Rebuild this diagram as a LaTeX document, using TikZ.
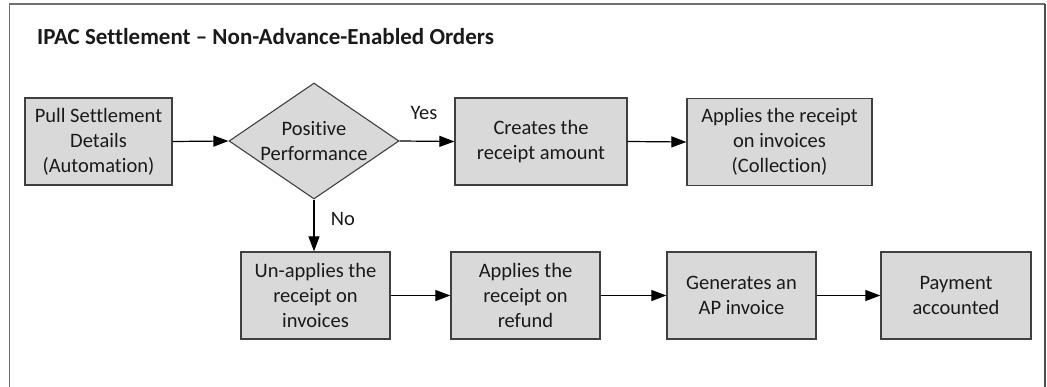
\documentclass[tikz,border=0pt]{standalone}
\usepackage{fontspec}
\setmainfont{Carlito}[Ligatures=NoCommon]
\usetikzlibrary{shapes.geometric,arrows.meta}

\definecolor{boxfill}{HTML}{D9D9D9}
\definecolor{boxline}{HTML}{404040}
\definecolor{frameline}{HTML}{707070}
\definecolor{ink}{HTML}{1A1A1A}

\tikzset{
  bodyfont/.style={font=\fontsize{20.5}{25}\selectfont},
  stepbox/.style={draw=boxline, fill=boxfill, line width=1.3pt, inner sep=0pt,
    minimum height=87pt, align=center, text=ink, bodyfont},
  decision/.style={diamond, draw=boxline, fill=boxfill, line width=1.1pt, inner sep=0pt,
    minimum width=170pt, minimum height=116pt},
  flow/.style={-{Triangle[length=15pt,width=11pt]}, line width=1.2pt, black},
  lbl/.style={text=ink, bodyfont, inner sep=0pt}
}

\begin{document}
\begin{tikzpicture}[x=1pt,y=-1pt]
  \useasboundingbox (0,0) rectangle (1047,387);
  \fill[white] (0,0) rectangle (1047,387);

  % outer frame (open at the bottom)
  \draw[frameline, line width=1.5pt] (9.5,395) -- (9.5,4) -- (1045,4);
  \draw[black!70, line width=2pt] (1045,4) -- (1045,395);

  % title
  \node[anchor=base west, inner sep=0pt, text=ink,
        font=\fontsize{23}{28}\selectfont\bfseries] (title) at (37,45)
        {IPAC Settlement – Non-Advance-Enabled Orders};

  % upper row
  \node[stepbox, minimum width=147pt] (pull) at (98.5,141.5)
        {Pull Settlement\\Details\\(Automation)};
  \node[decision] (perf) at (314,141) {};
  \node[lbl, align=center] (perftext) at (perf.center) {Positive\\Performance};
  \node[stepbox, minimum width=172pt] (creates) at (541,141.5)
        {Creates the\\receipt amount};
  \node[stepbox, minimum width=185pt] (collect) at (779.5,142)
        {Applies the receipt\\on invoices\\(Collection)};

  % lower row
  \node[stepbox, minimum width=149pt] (unapply) at (315.5,295.5)
        {Un-applies the\\receipt on\\invoices};
  \node[stepbox, minimum width=149pt] (refund) at (525.5,295.5)
        {Applies the\\receipt on\\refund};
  \node[stepbox, minimum width=149pt] (apinv) at (741.5,295.5)
        {Generates an\\AP invoice};
  \node[stepbox, minimum width=150pt] (paid) at (956,295.5)
        {Payment\\accounted};

  % connectors
  \draw[flow] (pull.east) -- (perf.west);
  \draw[flow] (perf.east) -- (creates.west);
  \draw[flow] (creates.east) -- (collect.west);
  \draw[flow] (perf.south) -- (perf.south |- unapply.north);
  \draw[flow] (unapply.east) -- (refund.west);
  \draw[flow] (refund.east) -- (apinv.west);
  \draw[flow] (apinv.east) -- (paid.west);

  % branch labels
  \node[lbl] (yes) at (424,113) {Yes};
  \node[lbl] (no) at (343,219) {No};
\end{tikzpicture}
\end{document}
